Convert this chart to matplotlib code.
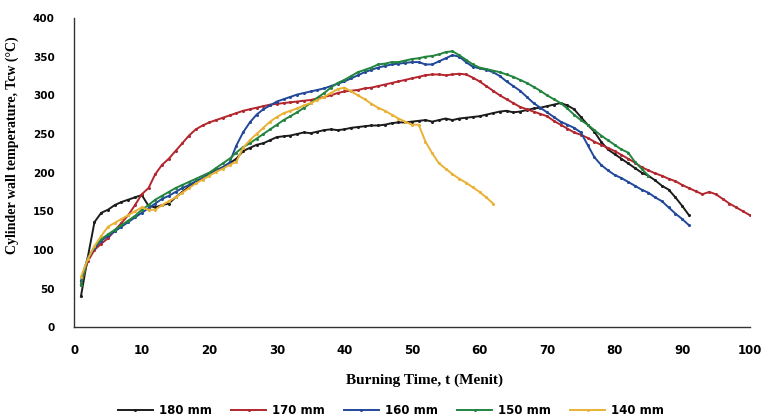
import matplotlib
matplotlib.use("Agg")
import matplotlib.pyplot as plt

# burning time (minutes) and cylinder wall temperature (deg C)
t_180 = list(range(1, 92))
temp_180 = [40, 90, 136, 148, 152, 158, 162, 165, 168, 171,
            157, 155, 158, 160, 168, 175, 182, 188, 193, 198,
            203, 207, 212, 218, 228, 232, 236, 238, 242, 246,
            247, 248, 250, 252, 251, 253, 255, 256, 255, 256,
            258, 259, 260, 261, 261, 262, 264, 265, 265, 266,
            267, 268, 266, 268, 270, 268, 270, 271, 272, 273,
            275, 277, 279, 280, 278, 279, 281, 283, 284, 286,
            288, 290, 287, 282, 272, 262, 253, 240, 230, 224,
            218, 212, 206, 200, 196, 190, 183, 178, 168, 157,
            145]

t_170 = list(range(1, 101))
temp_170 = [55, 85, 100, 108, 115, 125, 135, 145, 158, 172,
            180, 198, 210, 218, 228, 238, 248, 256, 261, 265,
            268, 271, 274, 277, 280, 282, 284, 286, 288, 289,
            290, 291, 292, 293, 294, 296, 298, 300, 303, 305,
            306, 307, 309, 310, 312, 314, 316, 318, 320, 322,
            324, 326, 327, 327, 326, 327, 328, 327, 323, 318,
            312, 306, 300, 295, 290, 285, 282, 279, 276, 273,
            267, 262, 257, 252, 249, 245, 240, 236, 232, 228,
            223, 218, 213, 207, 203, 199, 196, 192, 189, 184,
            180, 176, 172, 175, 172, 166, 160, 155, 150, 145]

t_160 = list(range(1, 92))
temp_160 = [60, 90, 102, 112, 118, 124, 130, 136, 142, 148,
            154, 160, 166, 170, 175, 180, 184, 189, 193, 198,
            202, 207, 213, 235, 252, 265, 275, 282, 287, 292,
            295, 298, 301, 303, 305, 307, 309, 312, 315, 318,
            322, 326, 330, 333, 336, 338, 340, 341, 342, 343,
            343, 340, 340, 344, 348, 352, 350, 343, 337, 335,
            333, 330, 325, 318, 312, 306, 298, 290, 284, 278,
            272, 266, 262, 258, 252, 236, 220, 210, 203, 197,
            193, 188, 183, 178, 174, 168, 163, 155, 147, 140,
            132]

t_150 = list(range(1, 86))
temp_150 = [55, 88, 104, 114, 120, 126, 132, 138, 144, 152,
            158, 165, 170, 175, 180, 184, 188, 192, 196, 200,
            206, 212, 218, 226, 233, 238, 244, 250, 256, 262,
            268, 273, 278, 284, 290, 297, 303, 310, 316, 320,
            325, 330, 333, 336, 340, 341, 343, 343, 345, 347,
            348, 350, 351, 353, 356, 357, 352, 346, 340, 336,
            334, 332, 330, 327, 324, 320, 316, 311, 306, 300,
            295, 290, 283, 275, 268, 262, 255, 248, 242, 236,
            230, 226, 214, 205, 196]

t_140 = list(range(1, 63))
temp_140 = [65, 88, 105, 118, 130, 135, 140, 145, 150, 155,
            152, 152, 158, 163, 168, 174, 180, 186, 191, 196,
            201, 205, 210, 214, 232, 242, 250, 258, 266, 272,
            277, 280, 283, 287, 290, 294, 298, 303, 308, 310,
            305, 300, 295, 289, 284, 280, 275, 270, 266, 262,
            262, 240, 225, 212, 205, 198, 192, 187, 181, 175,
            168, 160]

labels = ["180 mm", "170 mm", "160 mm", "150 mm", "140 mm"]
colors = ["#1c1c1c", "#b3262e", "#22489a", "#23843f", "#e9b236"]
series = [(t_180, temp_180), (t_170, temp_170), (t_160, temp_160),
          (t_150, temp_150), (t_140, temp_140)]

fig = plt.figure(figsize=(7.65, 4.2), dpi=100)
ax = fig.add_axes([0.097, 0.221, 0.883, 0.736])

for (t, temp), lab, col in zip(series, labels, colors):
    ax.plot(t, temp, color=col, lw=1.4, marker="o", ms=2.2,
            markeredgewidth=0, label=lab)

ax.set_xlim(0, 100)
ax.set_ylim(0, 400)
ax.set_xticks(range(0, 101, 10))
ax.set_yticks(range(0, 401, 50))
ax.tick_params(axis="x", length=0, labelsize=8.5, pad=12)
ax.tick_params(axis="y", length=0, labelsize=7.5, pad=14)
for lbl in ax.get_xticklabels() + ax.get_yticklabels():
    lbl.set_fontweight("bold")
for side in ("top", "right"):
    ax.spines[side].set_visible(False)
for side in ("left", "bottom"):
    ax.spines[side].set_color("#333333")
    ax.spines[side].set_linewidth(1.0)

ax.set_xlabel("Burning Time, t (Menit)", fontsize=11, fontweight="bold",
              family="Liberation Serif")
ax.xaxis.set_label_coords(0.519, -0.150)
ax.set_ylabel("Cylinder wall temperature, Tcw (°C)", fontsize=10,
              fontweight="bold", family="Liberation Serif")
ax.yaxis.set_label_coords(-0.082, 0.59)

fig.legend(loc="center", bbox_to_anchor=(0.511, 0.022), ncol=5,
           frameon=False, handlelength=3.0, columnspacing=1.6,
           handletextpad=0.5, prop={"weight": "bold", "size": 8.5})

fig.savefig("out.png", dpi=100)
